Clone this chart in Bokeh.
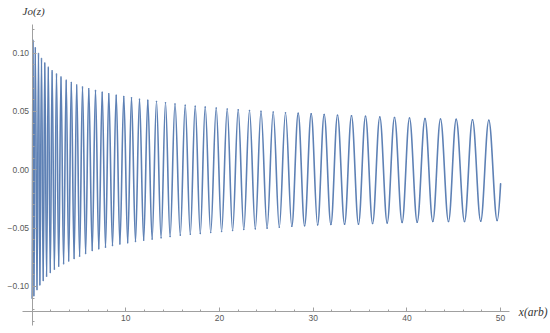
from bokeh.plotting import figure
from bokeh.models import Range1d, FixedTicker, CustomJSTickFormatter, Label, LinearAxis
from bokeh.embed import file_html
from bokeh.resources import INLINE

# ---- data (extrema of the oscillation) ----
peak_x = [0.096, 0.342, 0.683, 1.003, 1.355, 1.729, 2.134, 2.604, 3.084, 3.639,
          4.184, 4.760, 5.379, 6.051, 6.766, 7.481, 8.186, 8.975, 9.787, 10.608,
          11.462, 12.348, 13.276, 14.237, 15.251, 16.339, 17.407, 18.474, 19.648, 20.822,
          21.996, 23.202, 24.429, 25.731, 27.044, 28.399, 29.787, 31.174, 32.593, 34.087,
          35.582, 37.108, 38.677, 40.277, 41.932, 43.586, 45.261, 47.001, 48.741]
peak_y = [0.1110, 0.1045, 0.0997, 0.0954, 0.0914, 0.0879, 0.0849, 0.0820, 0.0794, 0.0767,
          0.0747, 0.0727, 0.0710, 0.0694, 0.0680, 0.0665, 0.0651, 0.0639, 0.0628, 0.0617,
          0.0605, 0.0595, 0.0585, 0.0575, 0.0564, 0.0553, 0.0544, 0.0537, 0.0529, 0.0521,
          0.0514, 0.0508, 0.0502, 0.0495, 0.0489, 0.0484, 0.0479, 0.0474, 0.0468, 0.0463,
          0.0458, 0.0453, 0.0448, 0.0444, 0.0439, 0.0436, 0.0432, 0.0429, 0.0425]
trough_x = [0.0, 0.192, 0.523, 0.832, 1.185, 1.547, 1.942, 2.380, 2.839, 3.362,
            3.906, 4.482, 5.069, 5.710, 6.414, 7.118, 7.834, 8.580, 9.370, 10.203,
            11.035, 11.910, 12.807, 13.767, 14.728, 15.816, 16.884, 17.951, 19.061, 20.224,
            21.398, 22.593, 23.821, 25.080, 26.382, 27.716, 29.082, 30.469, 31.889, 33.351,
            34.834, 36.339, 37.898, 39.488, 41.099, 42.764, 44.440, 46.148, 47.876, 49.637]
trough_y = [-0.1100, -0.1080, -0.1027, -0.0986, -0.0949, -0.0913, -0.0880, -0.0852, -0.0827, -0.0805,
            -0.0781, -0.0760, -0.0740, -0.0717, -0.0692, -0.0677, -0.0663, -0.0649, -0.0635, -0.0625,
            -0.0614, -0.0604, -0.0594, -0.0583, -0.0572, -0.0560, -0.0552, -0.0545, -0.0537, -0.0529,
            -0.0520, -0.0512, -0.0506, -0.0500, -0.0492, -0.0484, -0.0479, -0.0472, -0.0469, -0.0466,
            -0.0466, -0.0460, -0.0455, -0.0451, -0.0449, -0.0443, -0.0443, -0.0443, -0.0440, -0.0435]
end_x = [50.0]
end_y = [-0.012]

x_ticks = [10, 20, 30, 40, 50]
x_minor = [2, 4, 6, 8, 12, 14, 16, 18, 22, 24, 26, 28, 32, 34, 36, 38, 42, 44, 46, 48]
y_ticks = [-0.10, -0.05, 0.0, 0.05, 0.10]
y_minor = [-0.13, -0.12, -0.11, -0.09, -0.08, -0.07, -0.06, -0.04, -0.03, -0.02, -0.01,
           0.01, 0.02, 0.03, 0.04, 0.06, 0.07, 0.08, 0.09, 0.11, 0.12]

# ---- build the curve as smooth half-waves between consecutive extrema ----
pts = sorted(list(zip(peak_x, peak_y)) + list(zip(trough_x, trough_y)))
ex = [p_[0] for p_ in pts]
ey = [p_[1] for p_ in pts]
k = 0.3634
x0s, y0s, x1s, y1s, cx0s, cy0s, cx1s, cy1s = [], [], [], [], [], [], [], []
for i in range(len(ex) - 1):
    a, b = ex[i], ex[i + 1]
    d = b - a
    x0s.append(a); y0s.append(ey[i]); x1s.append(b); y1s.append(ey[i + 1])
    cx0s.append(a + k * d); cy0s.append(ey[i])
    cx1s.append(b - k * d); cy1s.append(ey[i + 1])
# last partial rise to the end of the domain
a, b = ex[-1], end_x[0]
d = b - a
x0s.append(a); y0s.append(ey[-1]); x1s.append(b); y1s.append(end_y[0])
cx0s.append(a + d / 3); cy0s.append(ey[-1])
cx1s.append(b - d / 3); cy1s.append(end_y[0] - 0.57 * (end_y[0] - ey[-1]))

p = figure(width=550, height=333, output_backend="svg", toolbar_location=None,
           x_range=Range1d(-3.3725, 55.326), y_range=Range1d(-0.14031, 0.14511),
           min_border_left=0, min_border_right=0, min_border_top=0, min_border_bottom=0,
           x_axis_location=None, y_axis_location=None)
p.outline_line_color = None
p.background_fill_color = "white"
p.border_fill_color = "white"
p.grid.visible = False

p.bezier(x0=x0s, y0=y0s, x1=x1s, y1=y1s, cx0=cx0s, cy0=cy0s, cx1=cx1s, cy1=cy1s,
         line_color="#5e81b5", line_width=1.6, line_cap="round")

axis_col = "#a0a0a0"
lab_col = "#5a5a5a"

xa = LinearAxis(fixed_location=-0.1215, bounds=(-1.057, 50.95),
                ticker=FixedTicker(ticks=x_ticks, minor_ticks=x_minor),
                formatter=CustomJSTickFormatter(code="return tick.toFixed(0)"))
ya = LinearAxis(fixed_location=0, bounds=(-0.1335, 0.1245),
                ticker=FixedTicker(ticks=y_ticks, minor_ticks=y_minor),
                formatter=CustomJSTickFormatter(code="return tick.toFixed(2).replace('-', '\u2212')"))
for ax in (xa, ya):
    ax.axis_line_color = axis_col
    ax.axis_line_width = 1
    ax.major_tick_line_color = axis_col
    ax.minor_tick_line_color = axis_col
    ax.major_tick_in = 4
    ax.major_tick_out = 0
    ax.minor_tick_in = 2
    ax.minor_tick_out = 0
    ax.major_label_text_color = lab_col
    ax.major_label_text_font = "Liberation Sans"
    ax.major_label_text_font_size = "8.5px"
    ax.major_label_standoff = 3
p.add_layout(xa, "below")
p.add_layout(ya, "left")

p.add_layout(Label(x=0, y=0.1357, text="Jo(z)", text_font="Liberation Serif",
                   text_font_style="italic", text_font_size="11px", text_color="#333333",
                   text_align="center", text_baseline="middle", x_offset=1.5))
p.add_layout(Label(x=51.94, y=-0.1215, text="x(arb)", text_font="Liberation Serif",
                   text_font_style="italic", text_font_size="11.5px", text_color="#333333",
                   text_align="left", text_baseline="middle"))

open("out.html", "w").write(file_html(p, INLINE))
